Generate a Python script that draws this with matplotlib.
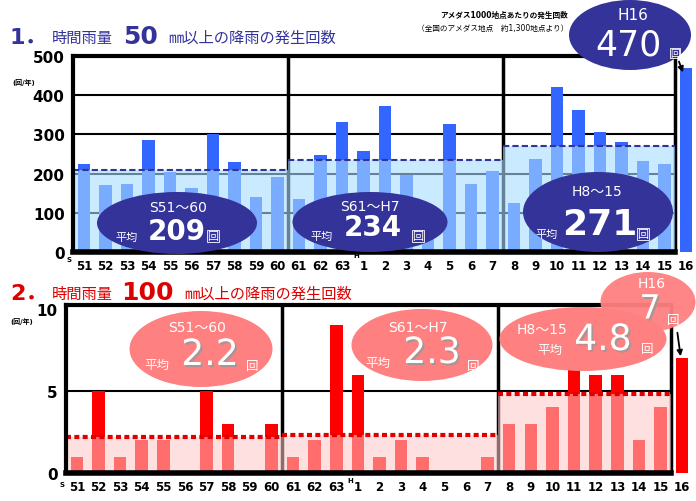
import matplotlib
matplotlib.use('Agg')
import matplotlib.pyplot as plt
import matplotlib.patheffects as pe
from matplotlib.patches import Ellipse, Rectangle

plt.rcParams['font.family'] = ['DejaVu Sans', 'Noto Sans CJK JP']

# year labels (S51..S63, H1..H16)
year_labels = ['51', '52', '53', '54', '55', '56', '57', '58', '59', '60',
               '61', '62', '63', '1', '2', '3', '4', '5', '6', '7',
               '8', '9', '10', '11', '12', '13', '14', '15', '16']

# 1. hourly rainfall >= 50mm (count / year)
counts_50 = [224, 170, 173, 285, 204, 163, 300, 229, 140, 191,
             135, 247, 332, 257, 372, 197, 100, 326, 173, 207,
             125, 236, 422, 361, 306, 280, 232, 224,
             470]
# 2. hourly rainfall >= 100mm (count / year)
counts_100 = [1, 5, 1, 2, 2, 0, 5, 3, 0, 3,
              1, 2, 9, 6, 1, 2, 1, 0, 0, 1,
              3, 3, 4, 10, 6, 6, 2, 4,
              7]

periods = ['S51～60', 'S61～H7', 'H8～15']
period_ranges = [(0, 10), (10, 20), (20, 28)]
avg_50 = [209, 234, 271]
avg_100 = [2.2, 2.3, 4.8]
avg_50_labels = ['209', '234', '271']
avg_100_labels = ['2.2', '2.3', '4.8']

NAVY = '#333399'
BLUE = '#3366ff'
RED = '#ff0000'
PINK = '#ff8080'

fig = plt.figure(figsize=(6.96, 5.02), dpi=100)


def panel(ax, counts, avgs, ymax, grid, bar_color, shade_color, shade_alpha,
          avg_color, avg_lw, avg_ls, yticks):
    x = list(range(len(counts)))
    ax.set_xlim(-0.5, 28.5)
    ax.set_ylim(0, ymax)
    for s in ax.spines.values():
        s.set_visible(False)
    ax.hlines(grid, -0.5, 27.5, color='black', lw=1.5, zorder=1)
    ax.bar(x, counts, width=0.58, color=bar_color, zorder=2)
    for (a, b), v in zip(period_ranges, avgs):
        ax.add_patch(Rectangle((a - 0.5, 0), b - a, v, facecolor=shade_color,
                               alpha=shade_alpha, lw=0, zorder=3))
        ax.plot([a - 0.5, b - 0.5], [v, v], color=avg_color, lw=avg_lw,
                ls=avg_ls, zorder=4)
    # frame and period separators
    ax.vlines([9.5, 19.5, 27.5], 0, ymax, color='black', lw=2.5, zorder=1)
    ax.plot([-0.5, 27.5], [ymax, ymax], color='black', lw=3, zorder=5,
            clip_on=False)
    ax.plot([-0.5, 27.5], [0, 0], color='black', lw=4, zorder=5,
            clip_on=False)
    ax.plot([-0.5, -0.5], [0, ymax], color='black', lw=3, zorder=5,
            clip_on=False)
    ax.set_yticks(yticks)
    ax.set_yticklabels([str(t) for t in yticks], fontsize=11,
                       fontweight='bold')
    ax.set_xticks(x)
    ax.set_xticklabels(year_labels, fontsize=8.5, fontweight='bold')
    ax.tick_params(length=0, pad=5)
    ax.tick_params(axis='y', pad=6)
    ax.patch.set_alpha(0)


ax1 = fig.add_axes([73 / 696, 1 - 253 / 502, 624 / 696, 196 / 502])
panel(ax1, counts_50, avg_50, 500, [100, 200, 300, 400], BLUE, '#a8dcff',
      0.6, NAVY, 1.5, (0, (3, 1.5)), [0, 100, 200, 300, 400, 500])

ax2 = fig.add_axes([66 / 696, 1 - 474 / 502, 627 / 696, 168 / 502])
panel(ax2, counts_100, avg_100, 10.25, [5], RED, '#ffc8c8',
      0.55, '#dd0000', 3, (0, (1.2, 0.8)), [0, 5, 10])

# overlay in pixel coordinates for titles and balloons
ov = fig.add_axes([0, 0, 1, 1])
ov.set_xlim(0, 696)
ov.set_ylim(502, 0)
ov.axis('off')
ov.patch.set_alpha(0)
ov.set_zorder(5)

# titles
ov.text(10, 38, '1．', color=NAVY, fontsize=16, fontweight='bold', va='center')
ov.text(52, 38, '時間雨量', color=NAVY, fontsize=11, va='center')
ov.text(123, 37, '50', color=NAVY, fontsize=18, fontweight='bold', va='center')
ov.text(168, 38, '㎜以上の降雨の発生回数', color=NAVY, fontsize=11, va='center')
ov.text(10, 294, '2．', color='#dd0000', fontsize=16, fontweight='bold', va='center')
ov.text(52, 294, '時間雨量', color='#dd0000', fontsize=11, va='center')
ov.text(121, 293, '100', color='#dd0000', fontsize=18, fontweight='bold', va='center')
ov.text(184, 294, '㎜以上の降雨の発生回数', color='#dd0000', fontsize=11, va='center')

ov.text(568, 15, 'アメダス1000地点あたりの発生回数', fontsize=5.5,
        fontweight='bold', ha='right', va='center')
ov.text(568, 28, '（全国のアメダス地点　約1,300地点より）', fontsize=5.5,
        ha='right', va='center')

ov.text(24, 83, '(回/年)', fontsize=5, fontweight='bold', ha='center', va='center')
ov.text(22, 322, '(回/年)', fontsize=5, fontweight='bold', ha='center', va='center')
for (sx, sy, t) in [(69, 260, 'S'), (356, 256, 'H'), (62, 485, 'S'), (350, 481, 'H')]:
    ov.text(sx, sy, t, fontsize=5, fontweight='bold', ha='center', va='center')

# balloons for 50mm panel
top_balloons = [((177, 224), 160, 62), ((370, 223), 155, 60), ((598, 213), 150, 80)]
top_txt = [((178, 208), (177, 232), 20, (127, 238), (213, 237)),
           ((370, 207), (373, 228), 20, (322, 237), (418, 237)),
           ((597, 192), (600, 225), 26, (547, 235), (643, 235))]
for (c, w, h), (pp, vp, vs, ap, kp), per, lab in zip(top_balloons, top_txt,
                                                     periods, avg_50_labels):
    ov.add_patch(Ellipse(c, w, h, facecolor=NAVY, edgecolor='none'))
    ov.text(*pp, per, color='white', fontsize=10, ha='center', va='center')
    ov.text(*vp, lab, color='white', fontsize=vs, fontweight='bold',
            ha='center', va='center')
    ov.text(*ap, '平均', color='white', fontsize=8, ha='center', va='center')
    ov.text(*kp, '回', color='white', fontsize=8, ha='center', va='center',
            bbox=dict(boxstyle='square,pad=0.05', fc='none', ec='white', lw=0.6))

ov.add_patch(Ellipse((630, 36), 122, 70, facecolor=NAVY, edgecolor='none'))
ov.text(633, 15, 'H16', color='white', fontsize=11, ha='center', va='center')
ov.text(628, 45, str(counts_50[-1]), color='white', fontsize=25,
        ha='center', va='center')
ov.text(675, 54, '回', color='white', fontsize=7, ha='center', va='center',
        bbox=dict(boxstyle='square,pad=0.05', fc='none', ec='white', lw=0.6))
ov.annotate('', xy=(684, 76), xytext=(678, 60),
            arrowprops=dict(arrowstyle='-|>', color='black', lw=1.3,
                            mutation_scale=8))

# balloons for 100mm panel
shadow = [pe.SimplePatchShadow(offset=(1.5, -1.5), shadow_rgbFace='#999999',
                               alpha=0.8), pe.Normal()]
bot_balloons = [((201, 350), 143, 76), ((422, 346), 141, 72), ((583, 340), 167, 64)]
bot_txt = [((197, 328), (210, 356), (157, 365), (252, 367)),
           ((418, 328), (432, 354), (378, 363), (473, 367)),
           ((542, 330), (603, 341), (550, 350), (647, 350))]
for (c, w, h), (pp, vp, ap, kp), per, lab in zip(bot_balloons, bot_txt,
                                                 periods, avg_100_labels):
    ov.add_patch(Ellipse(c, w, h, facecolor=PINK, edgecolor='none'))
    ov.text(*pp, per, color='white', fontsize=10, ha='center', va='center')
    ov.text(*vp, lab, color='white', fontsize=26, ha='center', va='center',
            path_effects=shadow)
    ov.text(*ap, '平均', color='white', fontsize=9, ha='center', va='center')
    ov.text(*kp, '回', color='white', fontsize=9, ha='center', va='center')

ov.add_patch(Ellipse((648, 303), 95, 60, facecolor=PINK, edgecolor='none',
                     alpha=0.95))
ov.text(652, 284, 'H16', color='white', fontsize=10, ha='center', va='center')
ov.text(650, 310, str(counts_100[-1]), color='white', fontsize=24,
        ha='center', va='center', path_effects=shadow)
ov.text(673, 321, '回', color='white', fontsize=9, ha='center', va='center')
ov.annotate('', xy=(681, 360), xytext=(677, 331),
            arrowprops=dict(arrowstyle='-|>', color='black', lw=1.3,
                            mutation_scale=8))

fig.savefig('out.png', dpi=100)
